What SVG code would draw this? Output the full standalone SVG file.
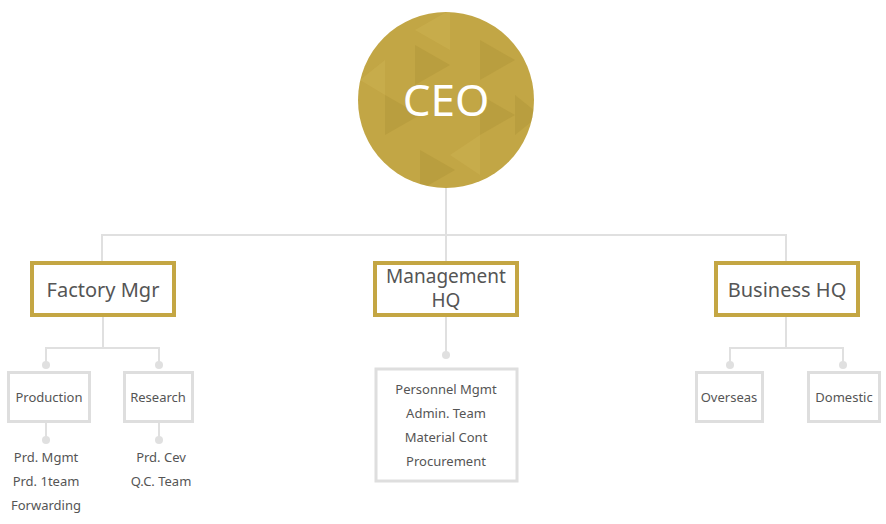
<svg xmlns="http://www.w3.org/2000/svg" width="886" height="524" viewBox="0 0 886 524">
<style>
.ln{stroke:#e0e0e0;stroke-width:2;fill:none}
.dot{fill:#e0e0e0}
.gb{fill:#fff;stroke:#c4a643;stroke-width:4}
.sb{fill:#fff;stroke:#dedede;stroke-width:3}
.t{font-family:"Noto Sans","Open Sans",sans-serif;fill:#555;text-anchor:middle}
.big{font-size:20px}
.sm{font-size:13px}
.tri{fill:#a88f35;opacity:.35}
.trl{fill:#d4b95a;opacity:.3}
</style>
<defs><clipPath id="cc"><circle cx="446" cy="100" r="88"/></clipPath></defs>
<g id="connectors">
<path class="ln" d="M446 188V235M102 262V235H786V262M446 235V262"/>
<path class="ln" d="M103 316V348M46 365V348H159V365M46 422V440M159 422V440"/>
<path class="ln" d="M446 316V355"/>
<path class="ln" d="M786 316V348M730 365V348H843V365"/>
<circle class="dot" cx="46" cy="365" r="4"/><circle class="dot" cx="159" cy="365" r="4"/>
<circle class="dot" cx="46" cy="440" r="4"/><circle class="dot" cx="159" cy="440" r="4"/>
<circle class="dot" cx="446" cy="355" r="4"/>
<circle class="dot" cx="730" cy="365" r="4"/><circle class="dot" cx="843" cy="365" r="4"/>
</g>
<g id="ceo">
<circle cx="446" cy="100" r="88" fill="#c2a645"/>
<g clip-path="url(#cc)">
<polygon class="tri" points="415,45 415,85 450,65"/>
<polygon class="tri" points="480,40 480,80 515,60"/>
<polygon class="tri" points="385,95 385,135 420,115"/>
<polygon class="tri" points="480,95 480,135 515,115"/>
<polygon class="tri" points="420,150 420,190 455,170"/>
<polygon class="tri" points="515,95 515,135 540,115"/>
<polygon class="trl" points="450,10 415,30 450,50"/>
<polygon class="trl" points="385,60 360,80 385,95"/>
<polygon class="trl" points="480,135 450,155 480,175"/>
</g>
<text class="t" x="446" y="116" font-size="44" style="fill:#fff">CEO</text>
</g>
<g id="factory"><rect class="gb" x="32" y="263" width="142" height="52"/><text class="t big" x="103" y="297">Factory Mgr</text></g>
<g id="mgmt"><rect class="gb" x="375" y="263" width="142" height="52"/><text class="t" font-size="19" x="446" y="283">Management</text><text class="t" font-size="19" x="446" y="307">HQ</text></g>
<g id="business"><rect class="gb" x="716" y="263" width="142" height="52"/><text class="t big" x="787" y="297">Business HQ</text></g>
<g id="production"><rect class="sb" x="8.5" y="372.5" width="81" height="49"/><text class="t sm" x="49" y="402">Production</text></g>
<g id="research"><rect class="sb" x="124.5" y="372.5" width="68" height="49"/><text class="t sm" x="158" y="402">Research</text></g>
<g id="prod-list"><text class="t sm" x="46" y="462">Prd. Mgmt</text><text class="t sm" x="46" y="486">Prd. 1team</text><text class="t sm" x="46" y="510">Forwarding</text></g>
<g id="res-list"><text class="t sm" x="161" y="462">Prd. Cev</text><text class="t sm" x="161" y="486">Q.C. Team</text></g>
<g id="mgmt-list"><rect class="sb" x="376" y="369" width="141" height="112" stroke-width="4"/>
<text class="t sm" x="446" y="394">Personnel Mgmt</text><text class="t sm" x="446" y="418">Admin. Team</text><text class="t sm" x="446" y="442">Material Cont</text><text class="t sm" x="446" y="466">Procurement</text></g>
<g id="overseas"><rect class="sb" x="696.5" y="372.5" width="66" height="49"/><text class="t sm" x="729" y="402">Overseas</text></g>
<g id="domestic"><rect class="sb" x="808.5" y="372.5" width="71" height="49"/><text class="t sm" x="844" y="402">Domestic</text></g>
</svg>
